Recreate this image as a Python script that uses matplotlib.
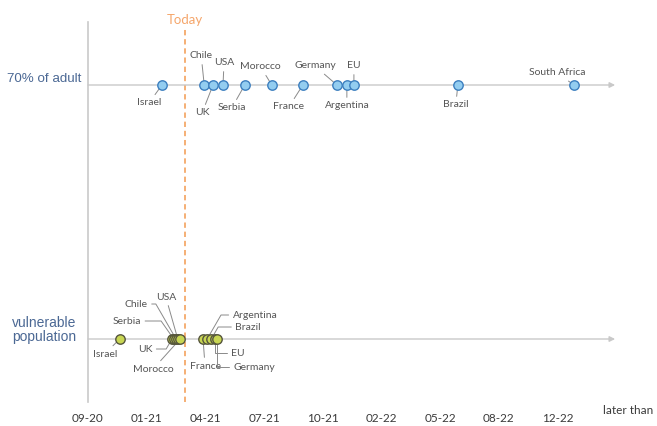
import matplotlib.pyplot as plt

# timeline positions (tick index units: 0 = 09-20, 1 = 01-21, ...)
tick_labels = ["09-20", "01-21", "04-21", "07-21", "10-21", "02-22", "05-22", "08-22", "12-22"]
today = 1.65

adult_countries = ["Israel", "Chile", "UK", "USA", "Serbia", "Morocco", "France",
                   "Germany", "Argentina", "EU", "Brazil", "South Africa"]
adult_dates = [1.26, 1.98, 2.13, 2.30, 2.67, 3.13, 3.66, 4.24, 4.41, 4.53, 6.30, 8.28]

vuln_countries = ["Israel", "UK", "Serbia", "Chile", "USA", "Morocco",
                  "France", "Argentina", "Brazil", "EU", "Germany"]
vuln_dates = [0.54, 1.43, 1.46, 1.50, 1.53, 1.57, 1.96, 2.03, 2.10, 2.16, 2.20]

# label offsets in pixels (dx, dy) and leader style
adult_offsets = {"Israel": (-13, -18), "Chile": (-3, 29), "UK": (-11, -28), "USA": (1, 22),
                 "Serbia": (-13, -23), "Morocco": (-11, 18), "France": (-14, -22),
                 "Germany": (-22, 19), "Argentina": (0, -21), "EU": (0, 19),
                 "Brazil": (-2, -20), "South Africa": (-17, 12)}
vuln_offsets = {"Israel": (-15, -15), "Serbia": (-47, 18), "Chile": (-40, 35),
                "USA": (-12, 42), "UK": (-27, -10), "Morocco": (-27, -30),
                "Argentina": (48, 24), "Brazil": (37, 12), "EU": (23, -14),
                "Germany": (37, -28), "France": (2, -27)}
vuln_conn = {"Serbia": "angle,angleA=0,angleB=-55", "Chile": "angle,angleA=0,angleB=-60",
             "UK": "angle,angleA=0,angleB=60", "Argentina": "angle,angleA=0,angleB=60",
             "Brazil": "angle,angleA=0,angleB=60", "EU": "angle,angleA=0,angleB=90",
             "Germany": "angle,angleA=0,angleB=90"}

GREY = "#c9c9c9"
TXT = "#555555"
FONT = "Lato"

fig = plt.figure(figsize=(6.57, 4.26), dpi=100)
ax = fig.add_axes([88 / 657, 24 / 426, 552 / 657, 380 / 426])
ax.set_xlim(0, 552 / 58.7)
ax.set_ylim(-0.248, 1.248)
for s in ["top", "right", "bottom"]:
    ax.spines[s].set_visible(False)
ax.spines["left"].set_color(GREY)
ax.spines["left"].set_linewidth(1.2)
ax.set_yticks([])
ax.set_xticks(range(len(tick_labels)))
ax.set_xticklabels(tick_labels, fontsize=8.5, color="#3a3a3a", family=FONT)
ax.tick_params(axis="x", length=0, pad=8)
ax.text(9.2, -0.28, "later than", fontsize=8.5, color="#3a3a3a", family=FONT,
        ha="center", va="center", clip_on=False)

# timeline arrows
for y in [1, 0]:
    ax.annotate("", xy=(8.98, y), xytext=(0, y),
                arrowprops=dict(arrowstyle="-|>", color=GREY, lw=1, mutation_scale=8,
                                shrinkA=0, shrinkB=0))

# today line
ax.axvline(today, ymin=0, ymax=0.982, color="#f39a50", lw=1.1, ls=(0, (3.5, 2.5)))
ax.text(today, 1.256, "Today", color="#f5a66b", fontsize=9.5, family=FONT,
        ha="center", va="center", clip_on=False)

# row labels
ax.text(-0.12, 1.022, "70% of adult", color="#4b6894", fontsize=9.6,
        family="Liberation Sans", ha="right", va="center", clip_on=False)
ax.text(-0.75, 0.035, "vulnerable\npopulation", color="#4b6894", fontsize=10,
        family="Liberation Sans", ha="center", va="center", clip_on=False,
        linespacing=1.05)

# markers
ax.scatter(adult_dates, [1] * len(adult_dates), s=46, color="#93cdf0",
           edgecolor="#3d7fbf", linewidth=1, zorder=4)
ax.scatter(vuln_dates, [0] * len(vuln_dates), s=46, color="#c8d653",
           edgecolor="#55553c", linewidth=1, zorder=4)

# labels
for name, x in zip(adult_countries, adult_dates):
    ax.annotate(name, xy=(x, 1), xytext=adult_offsets[name], textcoords="offset pixels",
                fontsize=7.5, color=TXT, family=FONT, ha="center", va="center", zorder=2,
                arrowprops=dict(arrowstyle="-", color="#8a8a8a", lw=0.7,
                                shrinkA=1, shrinkB=0))
for name, x in zip(vuln_countries, vuln_dates):
    ax.annotate(name, xy=(x, 0), xytext=vuln_offsets[name], textcoords="offset pixels",
                fontsize=7.5, color=TXT, family=FONT, ha="center", va="center", zorder=2,
                arrowprops=dict(arrowstyle="-", color="#8a8a8a", lw=0.7,
                                shrinkA=1, shrinkB=0,
                                connectionstyle=vuln_conn.get(name, "arc3")))

plt.savefig("out.png", dpi=100)
